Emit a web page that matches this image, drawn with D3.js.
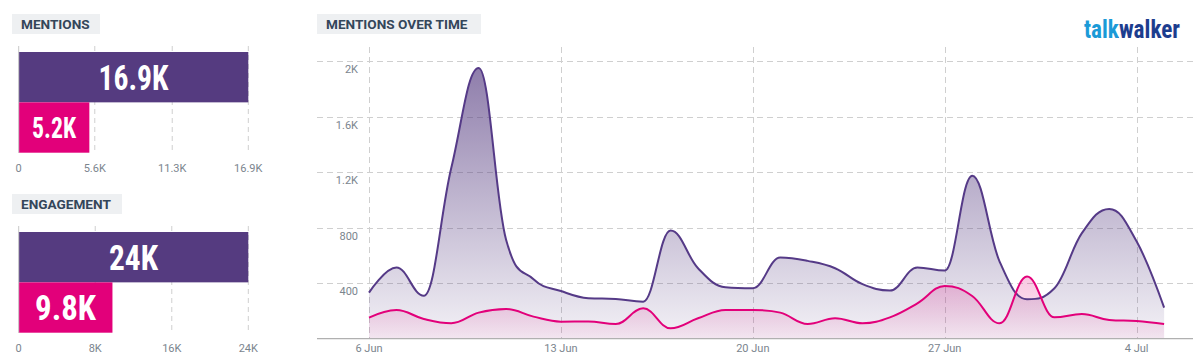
<!DOCTYPE html>
<html>
<head>
<meta charset="utf-8">
<script src="https://cdn.jsdelivr.net/npm/d3@7"></script>
<style>
  html, body { margin: 0; padding: 0; background: #fff; }
  svg { display: block; }
  text { font-family: Roboto, "Noto Sans", sans-serif; }
</style>
</head>
<body>
<svg id="chart" width="1203" height="364"></svg>
<script>
// ---------- DATA ----------
const mentionsCategories = ["Total", "Subset"];
const mentionsValues = [16.9, 5.2];          // thousands
const mentionsLabels = ["16.9K", "5.2K"];
const mentionsTicks = [0, 5.6, 11.3, 16.9];
const mentionsTickLabels = ["0", "5.6K", "11.3K", "16.9K"];

const engagementCategories = ["Total", "Subset"];
const engagementValues = [24, 9.8];          // thousands
const engagementLabels = ["24K", "9.8K"];
const engagementTicks = [0, 8, 16, 24];
const engagementTickLabels = ["0", "8K", "16K", "24K"];

const timeStart = "2021-06-06";
const purpleSeries = [332, 513, 310, 1230, 1952, 713, 429, 344, 292, 287, 267, 780, 508, 371, 364,
                      585, 561, 508, 393, 347, 513, 491, 1175, 556, 284, 364, 761, 936, 700, 224];
const pinkSeries   = [152, 207, 142, 111, 188, 214, 159, 123, 124, 106, 219, 75, 147, 207, 207,
                      188, 106, 147, 111, 154, 255, 380, 308, 111, 448, 154, 178, 135, 128, 106];
const yTicks = [400, 800, 1200, 1600, 2000];
const yTickLabels = ["400", "800", "1.2K", "1.6K", "2K"];
const xTickDates = ["2021-06-06", "2021-06-13", "2021-06-20", "2021-06-27", "2021-07-04"];
const xTickLabels = ["6 Jun", "13 Jun", "20 Jun", "27 Jun", "4 Jul"];

// ---------- STYLE ----------
const PURPLE = "#553b80";
const PURPLE_LINE = "#553a87";
const PINK = "#e2007a";
const GRID = "#cfcfcf";
const TICK_TEXT = "#7b858e";
const TITLE_BG = "#eef0f2";
const TITLE_TEXT = "#34465a";
const BIGFONT = '"Liberation Sans Narrow", "DejaVu Sans Condensed", "Roboto Condensed", Roboto, sans-serif';

const svg = d3.select("#chart");
const defs = svg.append("defs");

function titleBox(x, y, w, h, label) {
  const g = svg.append("g");
  g.append("rect").attr("x", x).attr("y", y).attr("width", w).attr("height", h).attr("fill", TITLE_BG);
  g.append("text").attr("x", x + 9).attr("y", y + h / 2 + 5)
    .attr("font-size", 13.6).attr("font-weight", 700).attr("fill", TITLE_TEXT)
    .text(label);
}

// ---------- BAR PANELS ----------
function barPanel(top, values, labels, ticks, tickLabels, fontSizes, widths) {
  const x = d3.scaleLinear().domain([0, ticks[ticks.length - 1]]).range([18.7, 248.3]);
  const y = d3.scaleBand().domain(d3.range(values.length)).range([top + 6, top + 106.7]).paddingInner(0);
  const g = svg.append("g");
  g.selectAll("line.grid").data(ticks.slice(1)).join("line")
    .attr("x1", d => x(d)).attr("x2", d => x(d))
    .attr("y1", top).attr("y2", top + 107)
    .attr("stroke", GRID).attr("stroke-dasharray", "5,4").attr("stroke-width", 1);
  g.selectAll("rect.bar").data(values).join("rect")
    .attr("x", x(0)).attr("y", (d, i) => y(i))
    .attr("width", d => x(d) - x(0)).attr("height", y.bandwidth())
    .attr("fill", (d, i) => i === 0 ? PURPLE : PINK);
  g.append("line").attr("x1", x(0)).attr("x2", x(0)).attr("y1", top).attr("y2", top + 107)
    .attr("stroke", "#c8c8c8").attr("stroke-width", 1);
  g.selectAll("text.val").data(values).join("text")
    .attr("x", (d, i) => (x(0) + x(d)) / 2 - widths[i] / 2)
    .attr("y", (d, i) => y(i) + y.bandwidth() / 2 + fontSizes[i] * 0.36)
    .attr("font-family", BIGFONT).attr("font-stretch", "condensed").attr("font-weight", 700)
    .attr("font-size", (d, i) => fontSizes[i]).attr("fill", "#fff")
    .attr("textLength", (d, i) => widths[i]).attr("lengthAdjust", "spacingAndGlyphs")
    .text((d, i) => labels[i]);
  g.selectAll("text.tick").data(ticks).join("text")
    .attr("x", d => x(d)).attr("y", top + 126)
    .attr("text-anchor", "middle").attr("font-size", 11).attr("fill", TICK_TEXT)
    .text((d, i) => tickLabels[i]);
}

titleBox(12, 14, 88, 20, "MENTIONS");
barPanel(46, mentionsValues, mentionsLabels, mentionsTicks, mentionsTickLabels, [35, 30], [70, 44]);
titleBox(12, 194, 110, 20, "ENGAGEMENT");
barPanel(226, engagementValues, engagementLabels, engagementTicks, engagementTickLabels, [35, 35], [49, 61]);

// ---------- TIME CHART ----------
titleBox(317, 14, 164, 20, "MENTIONS OVER TIME");

const parse = d3.timeParse("%Y-%m-%d");
const t0 = parse(timeStart);
const dates = purpleSeries.map((d, i) => d3.timeDay.offset(t0, i));
const xT = d3.scaleTime().domain([parse("2021-06-06"), parse("2021-07-04")]).range([369, 1136.7]);
const yT = d3.scaleLinear().domain([0, 2000]).range([338.7, 61.3]);
const plotLeft = 317, plotRight = 1193, plotTop = 47, plotBottom = 338.7;

const gT = svg.append("g");
gT.selectAll("line.hg").data(yTicks).join("line")
  .attr("x1", plotLeft).attr("x2", plotRight)
  .attr("y1", d => Math.round(yT(d)) + 0.5).attr("y2", d => Math.round(yT(d)) + 0.5)
  .attr("stroke", GRID).attr("stroke-dasharray", "6,4");
gT.selectAll("line.vg").data(xTickDates).join("line")
  .attr("x1", d => Math.round(xT(parse(d))) + 0.5).attr("x2", d => Math.round(xT(parse(d))) + 0.5)
  .attr("y1", plotTop).attr("y2", plotBottom)
  .attr("stroke", GRID).attr("stroke-dasharray", "6,4");

const gp = defs.append("linearGradient").attr("id", "gPurple").attr("x1", 0).attr("y1", 0).attr("x2", 0).attr("y2", 1);
gp.append("stop").attr("offset", "0%").attr("stop-color", PURPLE).attr("stop-opacity", 0.66);
gp.append("stop").attr("offset", "100%").attr("stop-color", PURPLE).attr("stop-opacity", 0.07);
const gk = defs.append("linearGradient").attr("id", "gPink").attr("x1", 0).attr("y1", 0).attr("x2", 0).attr("y2", 1);
gk.append("stop").attr("offset", "0%").attr("stop-color", PINK).attr("stop-opacity", 0.22);
gk.append("stop").attr("offset", "100%").attr("stop-color", PINK).attr("stop-opacity", 0.05);

// Spline path (smoothing 1.5 with extremum clamping), built from scaled points
function splinePath(values, closeToBase) {
  const pts = values.map((v, i) => ({ x: xT(dates[i]), y: yT(v) }));
  const p = d3.path();
  const s = 1.5, den = s + 1;
  pts.forEach((pt, i) => {
    if (i === 0) { p.moveTo(pt.x, pt.y); return; }
    const last = pts[i - 1], next = pts[i + 1];
    let lcx = pt.x, lcy = pt.y;
    if (next) {
      lcx = (s * pt.x + last.x) / den; lcy = (s * pt.y + last.y) / den;
      let rcx = (s * pt.x + next.x) / den, rcy = (s * pt.y + next.y) / den;
      const corr = ((rcy - lcy) * (rcx - pt.x)) / (rcx - lcx) + pt.y - rcy;
      lcy += corr; rcy += corr;
      if (lcy > last.y && lcy > pt.y) { lcy = Math.max(last.y, pt.y); rcy = 2 * pt.y - lcy; }
      else if (lcy < last.y && lcy < pt.y) { lcy = Math.min(last.y, pt.y); rcy = 2 * pt.y - lcy; }
      if (rcy > next.y && rcy > pt.y) { rcy = Math.max(next.y, pt.y); lcy = 2 * pt.y - rcy; }
      else if (rcy < next.y && rcy < pt.y) { rcy = Math.min(next.y, pt.y); lcy = 2 * pt.y - rcy; }
      pt.rcx = rcx; pt.rcy = rcy;
    }
    const c1x = last.rcx !== undefined ? last.rcx : last.x;
    const c1y = last.rcy !== undefined ? last.rcy : last.y;
    p.bezierCurveTo(c1x, c1y, lcx, lcy, pt.x, pt.y);
  });
  if (closeToBase) {
    p.lineTo(pts[pts.length - 1].x, yT(0));
    p.lineTo(pts[0].x, yT(0));
    p.closePath();
  }
  return p.toString();
}

gT.append("path").attr("d", splinePath(purpleSeries, true)).attr("fill", "url(#gPurple)");
gT.append("path").attr("d", splinePath(pinkSeries, true)).attr("fill", "url(#gPink)");
gT.append("path").attr("d", splinePath(purpleSeries, false)).attr("fill", "none")
  .attr("stroke", PURPLE_LINE).attr("stroke-width", 2).attr("stroke-linejoin", "round");
gT.append("path").attr("d", splinePath(pinkSeries, false)).attr("fill", "none")
  .attr("stroke", PINK).attr("stroke-width", 2).attr("stroke-linejoin", "round");

gT.append("line").attr("x1", plotLeft).attr("x2", plotRight)
  .attr("y1", plotBottom).attr("y2", plotBottom).attr("stroke", "#b0b0b0").attr("stroke-width", 1.2);

gT.selectAll("text.yl").data(yTicks).join("text")
  .attr("x", 358).attr("y", d => yT(d) + 12)
  .attr("text-anchor", "end").attr("font-size", 11).attr("fill", TICK_TEXT)
  .text((d, i) => yTickLabels[i]);
gT.selectAll("text.xl").data(xTickDates).join("text")
  .attr("x", d => xT(parse(d))).attr("y", 352)
  .attr("text-anchor", "middle").attr("font-size", 11).attr("fill", TICK_TEXT)
  .text((d, i) => xTickLabels[i]);

// ---------- LOGO (two-colour via hard-stop gradient on a single text) ----------
const lg = defs.append("linearGradient").attr("id", "gLogo")
  .attr("gradientUnits", "userSpaceOnUse").attr("x1", 1084).attr("y1", 0).attr("x2", 1180).attr("y2", 0);
lg.append("stop").attr("offset", "35.5%").attr("stop-color", "#1b9ad7");
lg.append("stop").attr("offset", "35.5%").attr("stop-color", "#1c3d8e");
svg.append("text").attr("x", 1084).attr("y", 37.5)
  .attr("font-family", BIGFONT).attr("font-stretch", "condensed")
  .attr("font-size", 26).attr("font-weight", 700).attr("fill", "url(#gLogo)")
  .attr("textLength", 96).attr("lengthAdjust", "spacingAndGlyphs")
  .text("talkwalker");
</script>
</body>
</html>
